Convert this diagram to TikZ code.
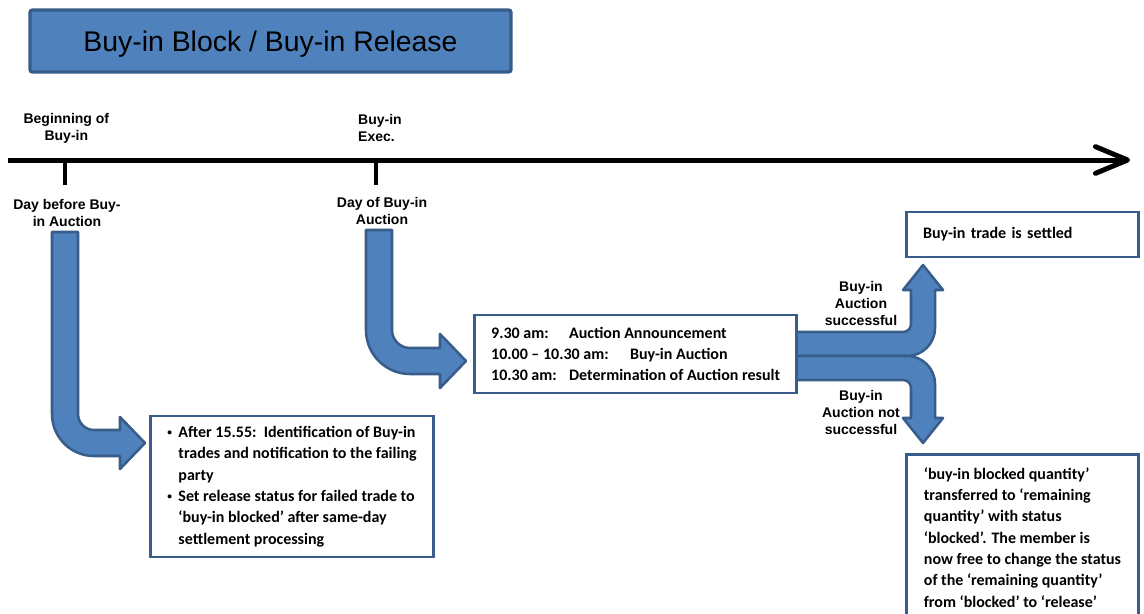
\documentclass[tikz,border=0pt]{standalone}
\usepackage{xcolor}
\usepackage{fontspec}
\setmainfont{Carlito}
\newfontfamily\arialfont{Liberation Sans}
\usepackage{tikz}
\usetikzlibrary{arrows.meta, positioning}
\definecolor{officeblue}{RGB}{79,129,189}
\definecolor{edgeblue}{RGB}{56,93,138}
\tikzset{
  header/.style     = {rectangle, rounded corners=2pt, draw=edgeblue, line width=2.6pt,
                       fill=officeblue, minimum width=360.75pt, minimum height=46.5pt,
                       text depth=0pt, font=\arialfont\fontsize{21.3}{25}\selectfont},
  infobox/.style    = {rectangle, draw=edgeblue, line width=2.2pt, fill=white,
                       align=left, inner xsep=12.5pt,
                       font=\bfseries\fontsize{12}{16}\selectfont},
  daylabel/.style   = {align=center, inner sep=0pt,
                       font=\arialfont\bfseries\fontsize{10.5}{12.75}\selectfont},
  blockarrow/.style = {draw=edgeblue, line width=1.9pt, fill=officeblue, line join=round},
  timeline/.style   = {line width=3.75pt,
                       -{Straight Barb[length=24pt, width=20pt, line cap=round, line join=round]}},
  tickline/.style   = {line width=3.5pt},
}
\newcommand{\smallbullet}{\makebox[8.25pt][l]{\raisebox{1.5pt}{\fontsize{7}{7}\selectfont\textbullet}}}

\begin{document}
\begin{tikzpicture}[x=0.75pt, y=-0.75pt]
  \path[use as bounding box, fill=white] (0,0) rectangle (1144,613);
  \clip (0,0) rectangle (1144,613);

  \node[header] (title) at (270.5,41) {Buy-in Block / Buy-in Release};

  % time axis with the two day marks
  \coordinate (axis-start) at (8,160);
  \coordinate (axis-end)   at (1130,160);
  \coordinate (prevday)    at (65,160);
  \coordinate (auctionday) at (376,160);
  \draw[timeline] (axis-start) -- (axis-end);
  \draw[tickline] (prevday) -- ++(0,25);
  \draw[tickline] (auctionday) -- ++(0,25);

  \node[daylabel, above=12pt of prevday, xshift=1pt]                 (begin)     {Beginning of\\Buy-in};
  \node[daylabel, align=left, above=13.5pt of auctionday, xshift=3pt] (exec)     {Buy-in\\Exec.};
  \node[daylabel, below=29.25pt of prevday, xshift=1.5pt]             (daybefore) {Day before Buy-\\in Auction};
  \node[daylabel, below=27.5pt of auctionday, xshift=4.5pt]           (dayof)     {Day of Buy-in\\Auction};

  % bent arrows down from the day marks
  \draw[blockarrow] (52,232) -- (52,414) arc[start angle=180, end angle=90, radius=42]
    -- (120,456) -- (120,469) -- (145,443) -- (120,417) -- (120,430) -- (94,430)
    arc[start angle=90, end angle=180, radius=16] -- (78,232) -- cycle;
  \draw[blockarrow] (366,230) -- (366,330) arc[start angle=180, end angle=90, radius=44]
    -- (440,374) -- (440,388) -- (466,361) -- (440,334) -- (440,348) -- (410,348)
    arc[start angle=90, end angle=180, radius=18] -- (392,230) -- cycle;

  % fork after the auction result
  \draw[blockarrow] (790,332) -- (903,332) arc[start angle=90, end angle=0, radius=8]
    -- (911,290) -- (903,290) -- (923,265) -- (943,290) -- (935,290) -- (935,328)
    arc[start angle=0, end angle=90, radius=28] -- (790,356) -- cycle;
  \draw[blockarrow] (790,380) -- (903,380) arc[start angle=-90, end angle=0, radius=8]
    -- (911,418) -- (903,418) -- (923,443) -- (943,418) -- (935,418) -- (935,384)
    arc[start angle=0, end angle=-90, radius=28] -- (790,356) -- cycle;

  \node[daylabel] (won)  at (861,303) {Buy-in\\Auction\\successful};
  \node[daylabel] (lost) at (861,412) {Buy-in\\Auction not\\successful};

  \node[infobox, anchor=west, inner xsep=12.75pt, minimum height=105.75pt] (failing) at (149,486.5)
    {\begin{tabular}{@{}l@{}l@{}}
      \smallbullet & After 15.55:\ \ Identification of Buy-in\\
                   & trades and notification to the failing\\
                   & party\\
      \smallbullet & Set release status for failed trade to\\
                   & ‘buy-in blocked’ after same-day\\
                   & settlement processing
     \end{tabular}};
  \node[infobox, anchor=west, minimum height=58.5pt] (auction) at (473,354)
    {\makebox[58.5pt][l]{9.30 am:}Auction Announcement\\
     \makebox[104.25pt][l]{10.00 – 10.30 am:}Buy-in Auction\\
     \makebox[58.5pt][l]{10.30 am:}Determination of Auction result};
  \node[infobox, anchor=west, minimum height=33.75pt, text width=149pt] (settled) at (905,234.5)
    {Buy-in trade is settled};
  \node[infobox, anchor=north west, minimum width=174pt, inner ysep=9.6pt] (blocked) at (905,453)
    {‘buy-in blocked quantity’\\
     transferred to ‘remaining\\
     quantity’ with status\\
     ‘blocked’. The member is\\
     now free to change the status\\
     of the ‘remaining quantity’\\
     from ‘blocked’ to ‘release’\rule[-30pt]{0pt}{0pt}};
\end{tikzpicture}
\end{document}
